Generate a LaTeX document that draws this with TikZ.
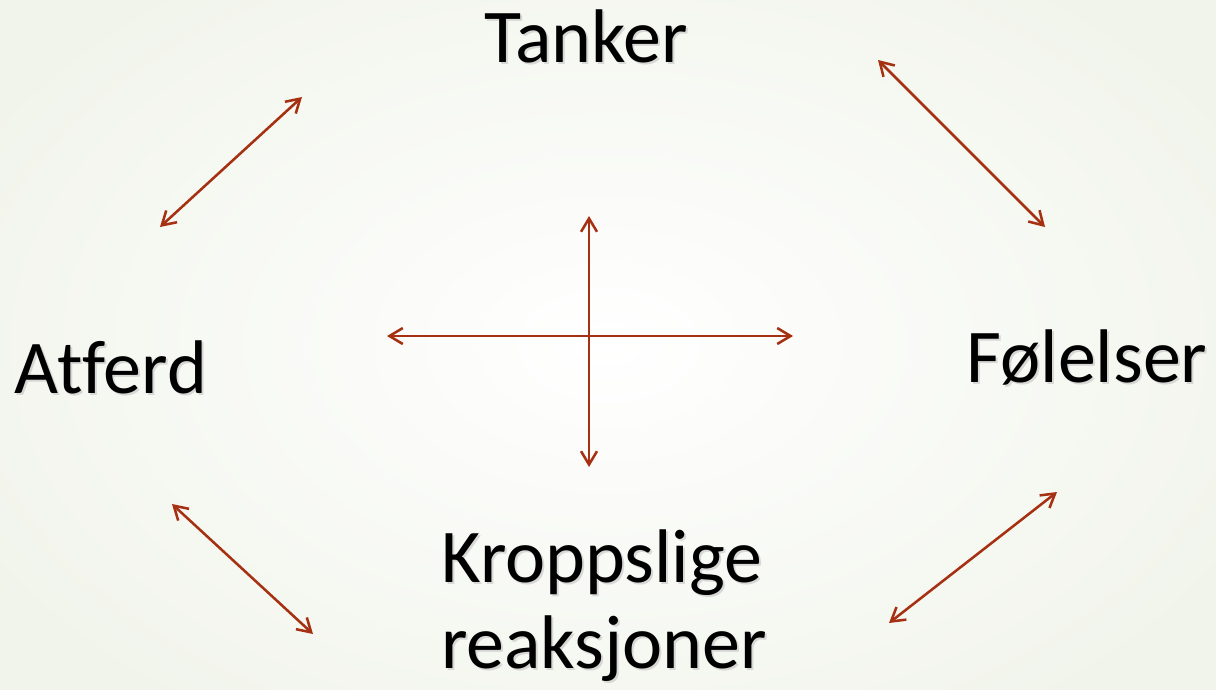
\documentclass[tikz,border=0pt]{standalone}
\usepackage{fontspec}
\setmainfont{Carlito}[Ligatures={NoCommon}]
\usetikzlibrary{arrows.meta}
\definecolor{arrowred}{RGB}{166,48,18}
\definecolor{bgedge}{RGB}{241,244,235}
\begin{document}
\begin{tikzpicture}[x=0.75pt,y=-0.75pt,
  lbl/.style={font=\fontsize{57}{68}\selectfont, text=black, anchor=base, inner sep=0pt, align=center},
  shadowlbl/.style={lbl, text=black!25, opacity=0.55},
  dbl/.style={arrowred, line width=1.9pt, {Straight Barb[length=10pt,width=12pt,line width=1.9pt]}-{Straight Barb[length=10pt,width=12pt,line width=1.9pt]}}]
  \useasboundingbox (0,0) rectangle (1216,689);
  \begin{scope}
  \clip (0,0) rectangle (1216,689);
  \shade[inner color=white, outer color=bgedge, shading=radial] (-120,-120) rectangle (1336,809);
  \end{scope}
  % shadows
  \node[shadowlbl] at (588,64) {Tanker};
  \node[shadowlbl] at (113,395) {Atferd};
  \node[shadowlbl] at (1089,384) {Følelser};
  \node[shadowlbl] at (604,584) {Kroppslige};
  \node[shadowlbl] at (606,670) {reaksjoner};
  % labels
  \node[lbl] (tanker) at (586,62) {Tanker};
  \node[lbl] (atferd) at (111,393) {Atferd};
  \node[lbl] (folelser) at (1087,382) {Følelser};
  \node[lbl] (kropp1) at (602,582) {Kroppslige};
  \node[lbl] (kropp2) at (604,668) {reaksjoner};
  % arrow end points
  \coordinate (tlA) at (160,227); \coordinate (tlB) at (302,97);
  \coordinate (trA) at (878,60);  \coordinate (trB) at (1045,227);
  \coordinate (blA) at (172,504); \coordinate (blB) at (313,634);
  \coordinate (brA) at (1057,492); \coordinate (brB) at (889,623);
  \coordinate (cT) at (589,216); \coordinate (cB) at (589,467);
  \coordinate (cL) at (387,336); \coordinate (cR) at (793,336);
  \draw[dbl] (tlA) -- (tlB);
  \draw[dbl] (trA) -- (trB);
  \draw[dbl] (blA) -- (blB);
  \draw[dbl] (brA) -- (brB);
  \draw[dbl] (cT) -- (cB);
  \draw[dbl] (cL) -- (cR);
\end{tikzpicture}
\end{document}
